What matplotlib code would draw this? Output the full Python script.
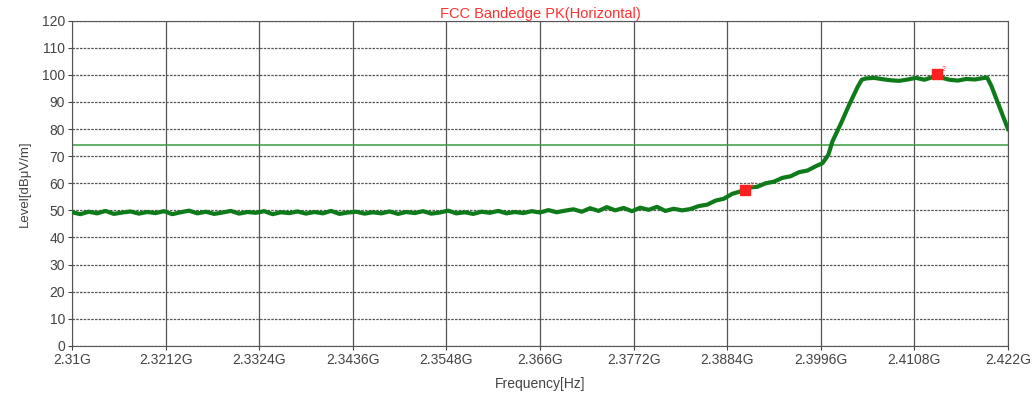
#!/usr/bin/env python3
"""
FCC bandedge peak scan (horizontal)
"""
import matplotlib.pyplot as plt
import numpy as np

# trace: level [dBuV/m] on a 1 MHz grid up to 2.384 GHz
flat_start_ghz = 2.310
flat_step_ghz = 0.001
flat_level = [49.3, 48.6, 49.5, 48.9, 49.8, 48.7, 49.2, 49.6, 48.8, 49.4,
              49.0, 49.7, 48.6, 49.3, 49.9, 48.9, 49.5, 48.7, 49.2, 49.8,
              48.8, 49.4, 49.1, 49.7, 48.6, 49.3, 49.0, 49.6, 48.8, 49.4,
              48.9, 49.8, 48.7, 49.2, 49.5, 48.8, 49.3, 48.9, 49.6, 48.7,
              49.4, 49.0, 49.7, 48.8, 49.2, 49.9, 48.9, 49.3, 48.7, 49.5,
              49.1, 49.8, 48.9, 49.4, 49.0, 49.7, 49.2, 50.1, 49.3, 49.9,
              50.4, 49.5, 50.8, 49.8, 51.2, 50.0, 50.9, 49.7, 51.0, 50.2,
              51.3, 49.8, 50.6, 50.0, 50.5]
# rest of the trace, read point by point
tail_freq_ghz = [2.385, 2.386, 2.387, 2.388, 2.389, 2.390, 2.391,
                 2.392, 2.393, 2.394, 2.395, 2.396, 2.397, 2.398, 2.399,
                 2.3998, 2.4005, 2.401, 2.402, 2.403, 2.404, 2.4045, 2.405,
                 2.406, 2.407, 2.408, 2.409, 2.410, 2.411, 2.412, 2.413,
                 2.4135, 2.414, 2.415, 2.416, 2.417, 2.418, 2.419, 2.4195,
                 2.420, 2.421, 2.422]
tail_level = [51.6, 52.1, 53.6, 54.3, 56.1, 57.0, 58.4,
              58.7, 60.0, 60.6, 62.0, 62.6, 64.1, 64.7, 66.3,
              67.4, 70.5, 75.5, 82.0, 89.0, 95.5, 98.2, 98.7,
              98.9, 98.4, 98.0, 97.8, 98.3, 98.9, 98.2, 99.2,
              100.2, 99.0, 98.2, 97.9, 98.5, 98.3, 98.8, 99.0,
              96.0, 88.0, 80.0]

limit_level = 74
marker_freq = [2.3905, 2.4135]
marker_level = [57.5, 100.5]
marker_names = ['1', '2']

xtick_vals = [2.31, 2.3212, 2.3324, 2.3436, 2.3548, 2.366, 2.3772, 2.3884,
              2.3996, 2.4108, 2.422]
xtick_labels = ['2.31G', '2.3212G', '2.3324G', '2.3436G', '2.3548G', '2.366G',
                '2.3772G', '2.3884G', '2.3996G', '2.4108G', '2.422G']


def main():
    plt.rcParams['font.family'] = 'Liberation Sans'
    flat_freq = flat_start_ghz + flat_step_ghz * np.arange(len(flat_level))
    freq = np.concatenate([flat_freq, tail_freq_ghz])
    level = np.concatenate([flat_level, tail_level])

    fig = plt.figure(figsize=(10.35, 3.98), dpi=100)
    ax = fig.add_axes([0.0696, 0.131, 0.9043, 0.817])

    ax.axhline(limit_level, color='#3a9a3a', linewidth=1.1, zorder=2)
    ax.plot(freq, level, color='#0f7a1a', linewidth=3.0, zorder=3)
    ax.plot(marker_freq, marker_level, linestyle='none', marker='s',
            markersize=7, color='#ff2020', zorder=4)
    for f, l, name in zip(marker_freq, marker_level, marker_names):
        ax.text(f + 0.0006, l + 1.0, name, fontsize=5, color='#ff4040')

    ax.set_xlim(2.31, 2.422)
    ax.set_ylim(0, 120)
    ax.set_xticks(xtick_vals)
    ax.set_xticklabels(xtick_labels)
    ax.set_yticks(np.arange(0, 121, 10))
    ax.tick_params(labelsize=10, colors='#444444', length=3, pad=2)

    ax.yaxis.grid(True, linestyle=(0, (2, 1)), color='#555555', linewidth=0.9)
    ax.xaxis.grid(True, linestyle='-', color='#555555', linewidth=0.9)
    ax.set_axisbelow(True)
    for s in ax.spines.values():
        s.set_color('#555555')

    ax.set_title('FCC Bandedge PK(Horizontal)', color='#ff3030', fontsize=10.5,
                 pad=1)
    ax.set_xlabel('Frequency[Hz]', fontsize=10, color='#444444', labelpad=7)
    ax.set_ylabel('Level[dBμV/m]', fontsize=9.5, color='#444444', labelpad=8)

    fig.savefig('out.png', dpi=100)


if __name__ == "__main__":
    main()
